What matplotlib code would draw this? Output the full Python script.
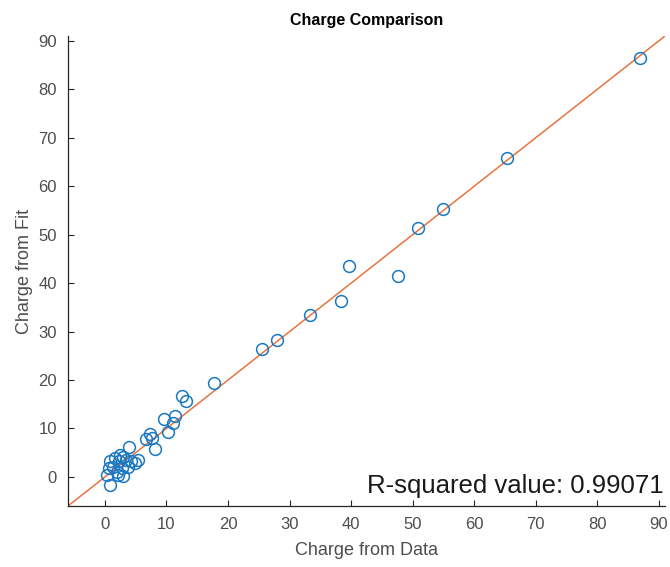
import matplotlib
matplotlib.use("Agg")
import matplotlib.pyplot as plt
import numpy as np

plt.rcParams['font.family'] = ['Liberation Sans', 'DejaVu Sans']

charge_data = [86.9, 65.4, 54.9, 50.8, 39.6, 38.3, 47.6, 33.4, 27.9, 25.6, 17.8,
               12.5, 13.2, 11.4, 9.6, 11.1, 10.3, 8.2, 7.3, 7.6, 6.6, 3.9,
               2.5, 3.0, 1.6, 2.3, 3.5, 4.3, 5.4, 4.9, 0.8, 1.3, 0.7, 2.7,
               1.9, 0.3, 3.0, 2.2, 0.8, 3.8]
charge_fit = [86.5, 65.8, 55.3, 51.3, 43.6, 36.4, 41.4, 33.5, 28.2, 26.5, 19.3,
              16.7, 15.7, 12.6, 11.9, 11.2, 9.2, 5.8, 8.9, 8.1, 7.9, 6.2,
              4.6, 4.2, 3.9, 3.2, 3.5, 3.2, 3.5, 2.8, 3.2, 2.1, 1.8, 1.8,
              1.1, 0.4, 0.1, 0.4, -1.7, 2.1]
fit_slope = 1.0
fit_intercept = 0.0
r_squared_text = "R-squared value: 0.99071"

xlim = (-6, 91)
ylim = (-6, 91)
ticks = [0, 10, 20, 30, 40, 50, 60, 70, 80, 90]

blue = (0.1, 0.47, 0.76)
orange = (0.91, 0.45, 0.25)
grey = (0.15, 0.15, 0.15)
label_grey = (0.3, 0.3, 0.3)

fig = plt.figure(figsize=(6.70, 5.67), dpi=100)
ax = fig.add_axes([68/670, 1-506/567, (665-68)/670, (506-36)/567])

xs = np.array(xlim)
ax.plot(xs, fit_slope*xs + fit_intercept, color=orange, lw=1.1, zorder=1)
ax.plot(charge_data, charge_fit, 'o', mfc='none', mec=blue, ms=8.5, mew=1.1, zorder=2)

ax.set_xlim(*xlim)
ax.set_ylim(*ylim)
ax.set_xticks(ticks)
ax.set_yticks(ticks)
for s in ['top', 'right']:
    ax.spines[s].set_visible(False)
for s in ['left', 'bottom']:
    ax.spines[s].set_color(grey)
    ax.spines[s].set_linewidth(0.9)
ax.tick_params(direction='in', length=4, width=0.8, color=grey, labelcolor=label_grey,
               labelsize=12, pad=8)

ax.set_xlabel("Charge from Data", fontsize=13, color=label_grey, labelpad=7)
ax.set_ylabel("Charge from Fit", fontsize=13, color=label_grey, labelpad=4)
ax.set_title("Charge Comparison", fontsize=11.5, fontweight='bold', color='black', pad=8)

ax.text(0.997, 13/470, r_squared_text, transform=ax.transAxes, ha='right', va='baseline',
        fontsize=18.5, color=(0.1, 0.1, 0.1))

fig.savefig("out.png", dpi=100)
